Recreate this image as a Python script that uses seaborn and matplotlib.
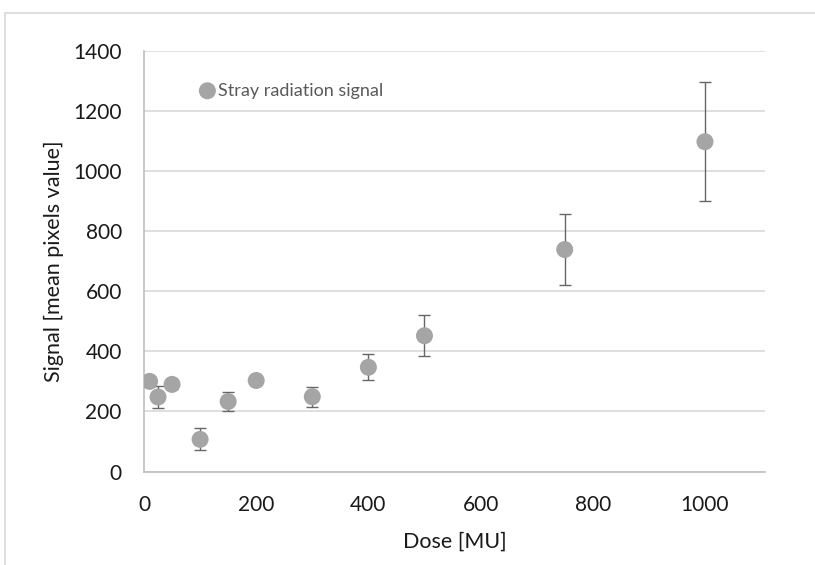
import matplotlib
matplotlib.use("Agg")
import matplotlib.pyplot as plt
import seaborn as sns
import pandas as pd
from matplotlib.lines import Line2D

dose = [10, 25, 50, 100, 150, 200, 300, 400, 500, 750, 1000]
signal = [300, 248, 290, 107, 233, 303, 249, 347, 452, 739, 1098]
error = [15, 38, 15, 37, 32, 15, 33, 43, 68, 118, 198]
x_ticks = [0, 200, 400, 600, 800, 1000]
y_ticks = [0, 200, 400, 600, 800, 1000, 1200, 1400]
series_name = "Stray radiation signal"

df = pd.DataFrame({"Dose": dose, "Signal": signal, "Error": error})

sns.set_style("white")
plt.rcParams["font.family"] = ["Lato", "DejaVu Sans"]

fig = plt.figure(figsize=(8.15, 5.65), dpi=100)
ax = fig.add_axes([144 / 815, 1 - 471.5 / 565, (765 - 144) / 815, (471.5 - 51) / 565])

ax.errorbar(df["Dose"], df["Signal"], yerr=df["Error"], fmt="none",
            ecolor="#666666", elinewidth=1.0, capsize=4.5, capthick=1.0, zorder=2)
sns.scatterplot(data=df, x="Dose", y="Signal", ax=ax, s=150, color="#a5a5a5",
                edgecolor="none", linewidth=0, label=series_name, zorder=3)

ax.set_xlim(0, 1107)
ax.set_ylim(0, 1400)
ax.set_xticks(x_ticks)
ax.set_yticks(y_ticks)
ax.grid(axis="y", color="#d9d9d9", linewidth=1.2)
ax.grid(axis="x", visible=False)
ax.set_axisbelow(True)
for s in ["top", "right"]:
    ax.spines[s].set_visible(False)
for s in ["left", "bottom"]:
    ax.spines[s].set_color("#bfbfbf")
    ax.spines[s].set_linewidth(1.2)
ax.tick_params(axis="both", length=0, labelsize=15, labelcolor="#1a1a1a")
ax.tick_params(axis="y", pad=16)
ax.tick_params(axis="x", pad=17)
ax.set_xlabel("Dose [MU]", fontsize=15.5, color="#1a1a1a", labelpad=12)
ax.set_ylabel("Signal [mean pixels value]", fontsize=15.5, color="#1a1a1a", labelpad=7)

leg = ax.legend(loc="center left", bbox_to_anchor=(0.073, 0.906), frameon=False,
                fontsize=13, handletextpad=0.0, borderaxespad=0, handlelength=1.2,
                markerscale=1.0)
for t in leg.get_texts():
    t.set_color("#595959")

# chart area frame (cropped)
fig.add_artist(Line2D([5 / 815, 1.0], [1 - 13 / 565, 1 - 13 / 565], color="#d9d9d9", lw=1.2,
                      transform=fig.transFigure))
fig.add_artist(Line2D([5 / 815, 5 / 815], [0, 1 - 13 / 565], color="#d9d9d9", lw=1.2,
                      transform=fig.transFigure))

fig.savefig("out.png", dpi=100, facecolor="white")
